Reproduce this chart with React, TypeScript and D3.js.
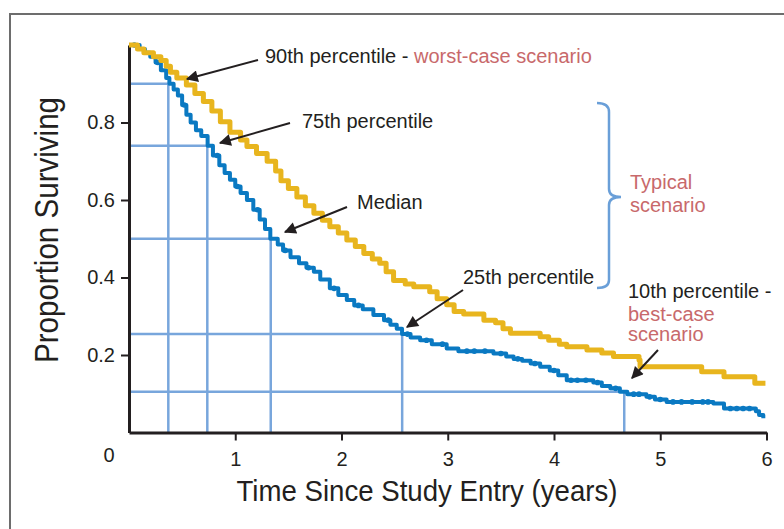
import { useEffect, useRef } from "react";
import * as d3 from "d3";

// Kaplan-Meier step points (years, proportion surviving)
const blueTime = [0, 0.1, 0.15, 0.2, 0.25, 0.3, 0.35, 0.38, 0.42, 0.46, 0.5, 0.54, 0.58, 0.63, 0.68, 0.74, 0.79, 0.85, 0.9, 0.95, 1.0, 1.05, 1.11, 1.17, 1.23, 1.28, 1.33, 1.4, 1.45, 1.52, 1.6, 1.67, 1.74, 1.8, 1.89, 1.97, 2.05, 2.12, 2.2, 2.3, 2.4, 2.46, 2.52, 2.57, 2.65, 2.74, 2.85, 2.99, 3.1, 3.43, 3.55, 3.62, 3.7, 3.78, 3.87, 3.96, 4.04, 4.12, 4.37, 4.45, 4.53, 4.62, 4.69, 4.87, 4.95, 5.06, 5.5, 5.6, 5.9, 5.93, 5.97];
const blueSurv = [1.0, 0.99, 0.98, 0.97, 0.955, 0.935, 0.915, 0.9, 0.885, 0.87, 0.845, 0.82, 0.8, 0.78, 0.765, 0.74, 0.715, 0.69, 0.67, 0.652, 0.635, 0.618, 0.6, 0.575, 0.55, 0.525, 0.5, 0.485, 0.47, 0.452, 0.437, 0.425, 0.415, 0.395, 0.372, 0.355, 0.342, 0.328, 0.318, 0.303, 0.29, 0.278, 0.268, 0.254, 0.245, 0.238, 0.228, 0.217, 0.21, 0.204, 0.196, 0.19, 0.185, 0.178, 0.17, 0.16, 0.148, 0.135, 0.129, 0.12, 0.114, 0.105, 0.099, 0.092, 0.085, 0.079, 0.075, 0.062, 0.055, 0.045, 0.037];

const goldTime = [0, 0.08, 0.14, 0.23, 0.3, 0.35, 0.39, 0.45, 0.54, 0.62, 0.7, 0.78, 0.86, 0.95, 1.05, 1.11, 1.2, 1.3, 1.38, 1.43, 1.5, 1.58, 1.66, 1.74, 1.82, 1.89, 1.97, 2.05, 2.13, 2.21, 2.29, 2.36, 2.42, 2.49, 2.6, 2.68, 2.83, 2.9, 2.99, 3.06, 3.15, 3.34, 3.45, 3.52, 3.59, 3.87, 3.95, 4.05, 4.12, 4.31, 4.45, 4.56, 4.8, 4.81, 5.39, 5.6, 5.89, 5.99];
const goldSurv = [1.0, 0.99, 0.98, 0.97, 0.96, 0.945, 0.93, 0.915, 0.897, 0.875, 0.854, 0.83, 0.802, 0.775, 0.755, 0.738, 0.72, 0.7, 0.675, 0.65, 0.63, 0.608, 0.585, 0.566, 0.548, 0.531, 0.515, 0.497, 0.48, 0.462, 0.448, 0.437, 0.415, 0.392, 0.383, 0.376, 0.363, 0.345, 0.33, 0.312, 0.306, 0.29, 0.283, 0.268, 0.256, 0.247, 0.238, 0.228, 0.221, 0.213, 0.205, 0.196, 0.187, 0.17, 0.157, 0.144, 0.127, 0.127];

// censored observations on the blue curve
const blueCensor = [0.05, 0.27, 0.52, 0.83, 1.02, 1.21, 1.47, 1.69, 1.93, 2.16, 2.44, 2.62, 2.8, 2.95, 3.18, 3.25, 3.35, 3.5, 3.66, 3.82, 4.0, 4.16, 4.22, 4.3, 4.41, 4.58, 4.75, 4.8, 4.9, 5.0, 5.12, 5.2, 5.3, 5.4, 5.45, 5.66, 5.72, 5.78, 5.84];

// percentile guide lines
const pctLevels = [0.9, 0.74, 0.5, 0.254, 0.105];
const pctTimes = [0.37, 0.737, 1.334, 2.571, 4.661];

const xTicks = [1, 2, 3, 4, 5, 6];
const yTicks = [0.2, 0.4, 0.6, 0.8];

const xTitle = "Time Since Study Entry (years)";
const yTitle = "Proportion Surviving";

const W = 784;
const H = 529;
const INK = "#231f20";
const ROSE = "#c8696b";
const GUIDE = "#78a6dc";
const FONT = "'Liberation Sans', Arial, sans-serif";

const App = () => {
  const svgRef = useRef(null);

  useEffect(() => {
    const svg = d3.select(svgRef.current);
    svg.selectAll("*").remove();

    const x = d3.scaleLinear().domain([0, 6]).range([129, 766.5]);
    const y = d3.scaleLinear().domain([0, 1]).range([432.5, 45]);

    // arrowhead
    svg.append("defs")
      .append("marker")
      .attr("id", "arrowhead")
      .attr("viewBox", "0 0 10 10")
      .attr("refX", 9)
      .attr("refY", 5)
      .attr("markerWidth", 7)
      .attr("markerHeight", 6)
      .attr("markerUnits", "strokeWidth")
      .attr("orient", "auto")
      .append("path")
      .attr("d", "M 0 0 L 10 5 L 0 10 z")
      .style("fill", INK);

    // frame
    svg.append("rect")
      .attr("x", 10).attr("y", 14)
      .attr("width", 800).attr("height", 560)
      .attr("fill", "none")
      .attr("stroke", "#6d6d6d")
      .attr("stroke-width", 2);

    // percentile guides
    const guides = svg.append("g").attr("stroke", GUIDE).attr("stroke-width", 2.5).attr("fill", "none");
    pctLevels.forEach((p, i) => {
      guides.append("line")
        .attr("x1", x(0)).attr("x2", x(pctTimes[i]))
        .attr("y1", y(p)).attr("y2", y(p));
      guides.append("line")
        .attr("x1", x(pctTimes[i])).attr("x2", x(pctTimes[i]))
        .attr("y1", y(p)).attr("y2", y(0));
    });

    // axes
    const xAxis = d3.axisBottom(x).tickValues(xTicks).tickSize(8).tickSizeOuter(0).tickPadding(6).tickFormat(d3.format("d"));
    const gx = svg.append("g").attr("transform", `translate(0, ${y(0)})`).call(xAxis);
    const yAxis = d3.axisLeft(y).tickValues(yTicks).tickSize(8).tickSizeOuter(0).tickPadding(6).tickFormat(d3.format(".1f"));
    const gy = svg.append("g").attr("transform", `translate(${x(0)}, 0)`).call(yAxis);
    [gx, gy].forEach((g) => {
      g.select(".domain").attr("stroke", INK).attr("stroke-width", 3);
      g.selectAll(".tick line").attr("stroke", INK).attr("stroke-width", 2);
      g.selectAll(".tick text").attr("fill", INK).style("font-family", FONT).style("font-size", "20px");
    });
    gx.selectAll(".tick text").attr("dy", "0.95em");
    svg.append("text")
      .attr("x", 109).attr("y", 462)
      .attr("text-anchor", "middle")
      .attr("fill", INK)
      .style("font-family", FONT).style("font-size", "20px")
      .text("0");

    // curves
    const line = d3.line()
      .x((d) => x(d[0]))
      .y((d) => y(d[1]))
      .curve(d3.curveStepAfter);

    const blueData = blueTime.map((t, i) => [t, blueSurv[i]]);
    const goldData = goldTime.map((t, i) => [t, goldSurv[i]]);

    svg.append("path")
      .datum(blueData)
      .attr("fill", "none")
      .attr("stroke", "#0a79c2")
      .attr("stroke-width", 4)
      .attr("stroke-linejoin", "round")
      .attr("d", line);

    const bis = d3.bisector((d) => d).right;
    svg.append("g")
      .selectAll("circle")
      .data(blueCensor)
      .join("circle")
      .attr("cx", (t) => x(t))
      .attr("cy", (t) => y(blueSurv[Math.max(0, bis(blueTime, t) - 1)]))
      .attr("r", 2.8)
      .attr("fill", "#0a79c2");

    svg.append("path")
      .datum(goldData)
      .attr("fill", "none")
      .attr("stroke", "#e8b51e")
      .attr("stroke-width", 5)
      .attr("stroke-linejoin", "round")
      .attr("d", line);

    // titles
    svg.append("text")
      .attr("x", 427).attr("y", 501)
      .attr("text-anchor", "middle")
      .attr("fill", INK)
      .attr("textLength", 381)
      .attr("lengthAdjust", "spacingAndGlyphs")
      .style("font-family", "'Liberation Sans Narrow', " + FONT)
      .style("font-size", "30px")
      .text(xTitle);

    svg.append("text")
      .attr("transform", "translate(58, 230) rotate(-90)")
      .attr("text-anchor", "middle")
      .attr("fill", INK)
      .attr("textLength", 266)
      .attr("lengthAdjust", "spacingAndGlyphs")
      .style("font-family", "'Liberation Sans Narrow', " + FONT)
      .style("font-size", "33px")
      .text(yTitle);

    // annotations
    const note = (tx, ty, parts) => {
      const t = svg.append("text")
        .attr("x", tx).attr("y", ty)
        .style("font-family", FONT).style("font-size", "20px");
      parts.forEach(([s, c]) => t.append("tspan").attr("fill", c).text(s));
    };
    note(265, 63, [["90th percentile - ", INK], ["worst-case scenario", ROSE]]);
    note(302, 128, [["75th percentile", INK]]);
    note(357, 209, [["Median", INK]]);
    note(463, 284, [["25th percentile", INK]]);
    note(628, 298, [["10th percentile -", INK]]);
    note(628, 321, [["best-case", ROSE]]);
    note(628, 341, [["scenario", ROSE]]);
    note(630, 189, [["Typical", ROSE]]);
    note(630, 212, [["scenario", ROSE]]);

    const arrows = [
      [258, 60, 187, 79],
      [290, 123, 220, 143],
      [347, 207, 285, 232],
      [463, 290, 407, 327],
      [658, 350, 632, 378],
    ];
    svg.append("g")
      .selectAll("line")
      .data(arrows)
      .join("line")
      .attr("x1", (d) => d[0]).attr("y1", (d) => d[1])
      .attr("x2", (d) => d[2]).attr("y2", (d) => d[3])
      .attr("stroke", INK)
      .attr("stroke-width", 2)
      .attr("marker-end", "url(#arrowhead)");

    // brace around the typical scenario
    svg.append("path")
      .attr("d", "M 597 103 Q 609 103 609 112 L 609 189 Q 609 197 621 197 Q 609 197 609 205 L 609 280 Q 609 288 597 288")
      .attr("fill", "none")
      .attr("stroke", "#6a9fd8")
      .attr("stroke-width", 2.5);
  }, []);

  return (
    <svg
      ref={svgRef}
      width={W}
      height={H}
      style={{ position: "absolute", left: 0, top: 0, background: "#fff" }}
    ></svg>
  );
};

export default App;
